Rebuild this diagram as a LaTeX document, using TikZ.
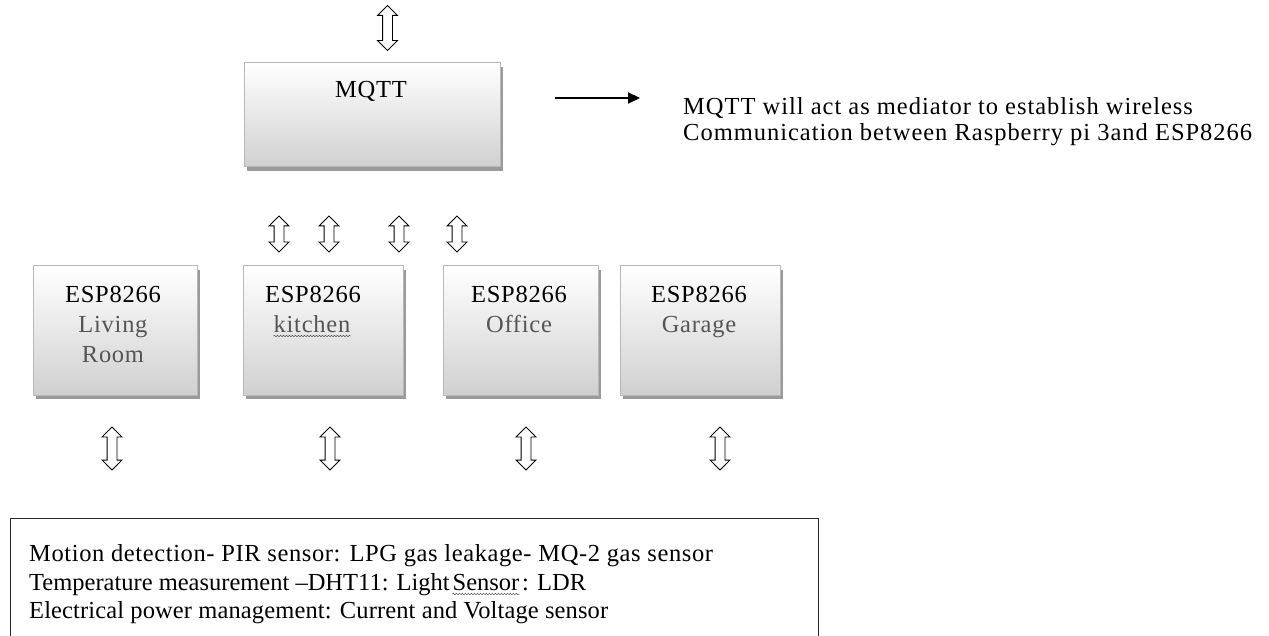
\documentclass[tikz,border=0pt]{standalone}
\usepackage{fontspec}
\setmainfont[LetterSpace=3]{Liberation Serif}
\usetikzlibrary{shapes.arrows,shadows,arrows.meta,decorations.pathmorphing}
\definecolor{boxedge}{HTML}{B8B8B8}
\definecolor{boxbot}{HTML}{D0D0D0}
\definecolor{shadowgray}{HTML}{9A9A9A}
\definecolor{subgray}{HTML}{555555}
\begin{document}
\begin{tikzpicture}[x=1pt,y=-1pt,
  font=\fontsize{24.5}{29}\selectfont,
  box/.style={draw=boxedge, line width=1pt, top color=white, bottom color=boxbot,
    drop shadow={shadow xshift=3pt, shadow yshift=-4pt, fill=shadowgray, opacity=1}},
  lbl/.style={inner sep=0pt, anchor=base},
  sub/.style={lbl, text=subgray},
  dbl/.style={shape=double arrow, draw=black, line width=0.9pt, fill=white, rotate=90,
    inner sep=4.5pt, double arrow head extend=5pt, double arrow tip angle=90,
    minimum width=19pt},
  squig/.style={decorate, decoration={snake, amplitude=0.8pt, segment length=3pt},
    draw=subgray, line width=0.5pt},
]
\useasboundingbox (0,0) rectangle (1269,636);
\clip (0,0) rectangle (1269,636);

% MQTT box
\node[box, minimum width=256pt, minimum height=104pt] (mqtt) at (372,115) {};
\node[lbl] (mqttt) at (371,98) {MQTT};
\node[dbl, minimum height=45pt] (topar) at (387.5,28) {};

% note
\coordinate (aS) at (555,98);
\coordinate (aE) at (640,98);
\draw[line width=2pt, -{Triangle[length=12pt,width=11pt]}] (aS) -- (aE);
\node[lbl, anchor=base west] (n1) at (683,115) {\addfontfeatures{LetterSpace=4}MQTT will act as mediator to establish wireless};
\node[lbl, anchor=base west] (n2) at (683,141) {\addfontfeatures{LetterSpace=4}Communication between Raspberry pi 3and ESP8266};

% middle arrows
\node[dbl, minimum height=36pt] (m1) at (279,234) {};
\node[dbl, minimum height=36pt] (m2) at (329,234) {};
\node[dbl, minimum height=36pt] (m3) at (399,234) {};
\node[dbl, minimum height=36pt] (m4) at (457,234) {};

% ESP boxes
\node[box, minimum width=164pt, minimum height=129pt] (esp1) at (115,330.5) {};
\node[box, minimum width=160pt, minimum height=129pt] (esp2) at (323,330.5) {};
\node[box, minimum width=155pt, minimum height=129pt] (esp3) at (520.5,330.5) {};
\node[box, minimum width=160pt, minimum height=129pt] (esp4) at (700,330.5) {};

\node[lbl] (e1a) at (113,302) {ESP8266};
\node[sub] (e1b) at (113,332) {Living};
\node[sub] (e1c) at (113,362) {Room};
\node[lbl] (e2a) at (313,302) {ESP8266};
\node[sub] (kit) at (312,332) {kitchen};
\draw[squig] ([yshift=-4pt]kit.base west) -- ([yshift=-4pt]kit.base east);
\node[lbl] (e3a) at (519,302) {ESP8266};
\node[sub] (e3b) at (519,332) {Office};
\node[lbl] (e4a) at (699,302) {ESP8266};
\node[sub] (e4b) at (699,332) {Garage};

% bottom arrows
\node[dbl, minimum height=43pt] (b1) at (112,448.5) {};
\node[dbl, minimum height=43pt] (b2) at (330,448.5) {};
\node[dbl, minimum height=43pt] (b3) at (526,448.5) {};
\node[dbl, minimum height=43pt] (b4) at (720,448.5) {};

% sensor box
\node[draw=black!85, line width=1pt, minimum width=808pt, minimum height=140pt, anchor=north west, inner sep=0pt] (sens) at (10,518) {};
\node[lbl, anchor=base west] (s1) at (29,561) {\addfontfeatures{LetterSpace=2.5}Motion detection- PIR sensor: LPG gas leakage- MQ-2 gas sensor};
\node[lbl, anchor=base west] (s2a) at (29,590) {\addfontfeatures{LetterSpace=0}Temperature measurement –DHT11: Light};
\node[lbl, anchor=base west] (s2b) at ([xshift=0.25em]s2a.base east) {\addfontfeatures{LetterSpace=0}Sensor};
\draw[squig] ([yshift=-4pt]s2b.base west) -- ([yshift=-4pt]s2b.base east);
\node[lbl, anchor=base west] (s2c) at ([xshift=0.25em]s2b.base east) {\addfontfeatures{LetterSpace=0}: LDR};
\node[lbl, anchor=base west] (s3) at (29,618) {\addfontfeatures{LetterSpace=0.5}Electrical power management: Current and Voltage sensor};
\end{tikzpicture}
\end{document}
